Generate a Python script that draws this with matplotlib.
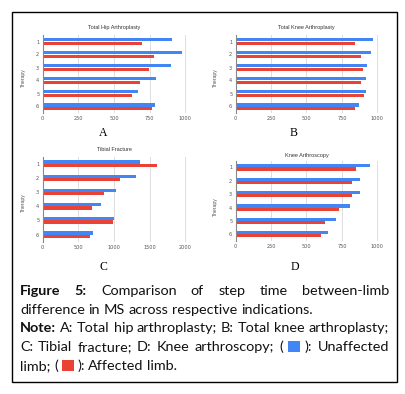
import matplotlib
matplotlib.use("Agg")
import matplotlib.pyplot as plt
from matplotlib.patches import Rectangle
import numpy as np

# -------------------------
# Data (step time)
# -------------------------
therapy = ["1", "2", "3", "4", "5", "6"]

hip_unaffected = [907, 979, 900, 793, 671, 788]
hip_affected = [699, 783, 746, 685, 627, 769]

knee_tka_unaffected = [972, 955, 927, 923, 918, 871]
knee_tka_affected = [845, 885, 901, 883, 904, 840]

tibial_unaffected = [1363, 1302, 1026, 815, 1002, 712]
tibial_affected = [1597, 1091, 857, 689, 984, 660]

arthroscopy_unaffected = [948, 878, 880, 810, 709, 650]
arthroscopy_affected = [852, 822, 822, 732, 634, 606]

titles = ["Total Hip Arthroplasty", "Total Knee Arthroplasty", "Tibial Fracture", "Knee Arthroscopy"]
letters = ["A", "B", "C", "D"]
xticks_list = [[0, 250, 500, 750, 1000], [0, 250, 500, 750, 1000],
               [0, 500, 1000, 1500, 2000], [0, 250, 500, 750, 1000]]

BLUE = "#4285F4"
RED = "#EA4335"

W, H = 405, 394
fig = plt.figure(figsize=(W / 100, H / 100), dpi=100)


def px_axes(x0, y0, x1, y1):
    return fig.add_axes([x0 / W, 1 - y1 / H, (x1 - x0) / W, (y1 - y0) / H])


# -------------------------
# Panels
# -------------------------
# (x0, y0, x1, y1, title_y, letter_x, letter_y, ylabel_x, ylabel_y)
boxes = [
    (42.7, 35, 185.7, 113, 27, 103, 133, 23, 78),
    (235.7, 35, 377.7, 113, 27, 294, 133, 215, 78),
    (42.7, 156.7, 185.7, 241.7, 149.7, 103, 267, 23, 203),
    (235.7, 160.7, 377.7, 241, 155, 295, 267, 215, 207),
]
series = [
    (hip_unaffected, hip_affected),
    (knee_tka_unaffected, knee_tka_affected),
    (tibial_unaffected, tibial_affected),
    (arthroscopy_unaffected, arthroscopy_affected),
]

y = np.arange(len(therapy))
bh = 0.235
for i, (x0, y0, x1, y1, ty, lx, ly, yx, yy) in enumerate(boxes):
    ax = px_axes(x0, y0, x1, y1)
    ua, af = series[i]
    ax.barh(y - bh / 2, ua, height=bh, color=BLUE, zorder=3, linewidth=0)
    ax.barh(y + bh / 2, af, height=bh, color=RED, zorder=3, linewidth=0)
    ax.set_ylim(len(therapy) - 0.5, -0.5)
    ax.set_xlim(0, xticks_list[i][-1] * 1.003)
    ax.set_xticks(xticks_list[i])
    ax.set_xticklabels([str(t) for t in xticks_list[i]])
    ax.set_yticks(y)
    ax.set_yticklabels(therapy)
    ax.tick_params(length=0, labelsize=3.6, colors="#555555", pad=2.5)
    ax.grid(axis="x", color="#dddddd", linewidth=0.7, zorder=0)
    for s in ["top", "right", "bottom"]:
        ax.spines[s].set_visible(False)
    ax.spines["left"].set_color("#888888")
    ax.spines["left"].set_linewidth(0.8)
    ax.spines["left"].set_zorder(4)
    ax.set_facecolor("none")
    fig.text((x0 + x1) / 2 / W, 1 - ty / H, titles[i], ha="center", va="center",
             fontsize=4.0, color="#333333", family="Liberation Sans")
    fig.text(yx / W, 1 - yy / H, "Therapy", ha="center", va="center", rotation=90,
             fontsize=3.6, color="#555555", family="Liberation Sans")
    fig.text(lx / W, 1 - ly / H, letters[i], ha="center", va="center",
             fontsize=8.5, family="Liberation Serif")

# frame round the whole figure
fig.add_artist(Rectangle((12 / W, 1 - 382 / H), 385 / W, 370 / H, transform=fig.transFigure,
                         fill=False, edgecolor="black", linewidth=1.0))

# -------------------------
# Caption, justified word by word
# -------------------------
SQ = "SQUARE"
lines = [
    ([("Figure", True), ("5:", True), ("Comparison", False), ("of", False), ("step", False),
      ("time", False), ("between-limb", False)], True),
    ([("difference", False), ("in", False), ("MS", False), ("across", False), ("respective", False),
      ("indications.", False)], False),
    ([("Note:", True), ("A:", False), ("Total", False), ("hip", False), ("arthroplasty;", False),
      ("B:", False), ("Total", False), ("knee", False), ("arthroplasty;", False)], True),
    ([("C:", False), ("Tibial", False), ("fracture;", False), ("D:", False), ("Knee", False),
      ("arthroscopy;", False), ("(", False), (SQ, BLUE), ("):", False), ("Unaffected", False)], True),
    ([("limb;", False), ("(", False), (SQ, RED), ("):", False), ("Affected", False), ("limb.", False)], False),
]
baselines = [295, 313.5, 332.3, 351, 369.8]
left, right = 20, 389
fsize = 10.4
fam = "Lato"
renderer = fig.canvas.get_renderer()
sq_w, sq_h = 12, 11


def word_w(txt, bold):
    t = fig.text(0, 0, txt, fontsize=fsize, family=fam, fontweight="bold" if bold else "normal")
    w = t.get_window_extent(renderer).width
    t.remove()
    return w


space_w = word_w("a b", False) - word_w("ab", False)

for (tokens, justify), base in zip(lines, baselines):
    widths = [sq_w if t == SQ else word_w(t, b) for t, b in tokens]
    if justify:
        gap = (right - left - sum(widths)) / (len(tokens) - 1)
    else:
        gap = space_w
    x = left
    for (t, b), w in zip(tokens, widths):
        if t == SQ:
            fig.add_artist(Rectangle((x / W, 1 - (base + 1) / H), sq_w / W, sq_h / H,
                                     transform=fig.transFigure, color=b, linewidth=0))
        else:
            fig.text(x / W, 1 - base / H, t, fontsize=fsize, family=fam, va="baseline",
                     fontweight="bold" if b else "normal", color="#111111")
        x += w + gap

fig.savefig("out.png", dpi=100)
